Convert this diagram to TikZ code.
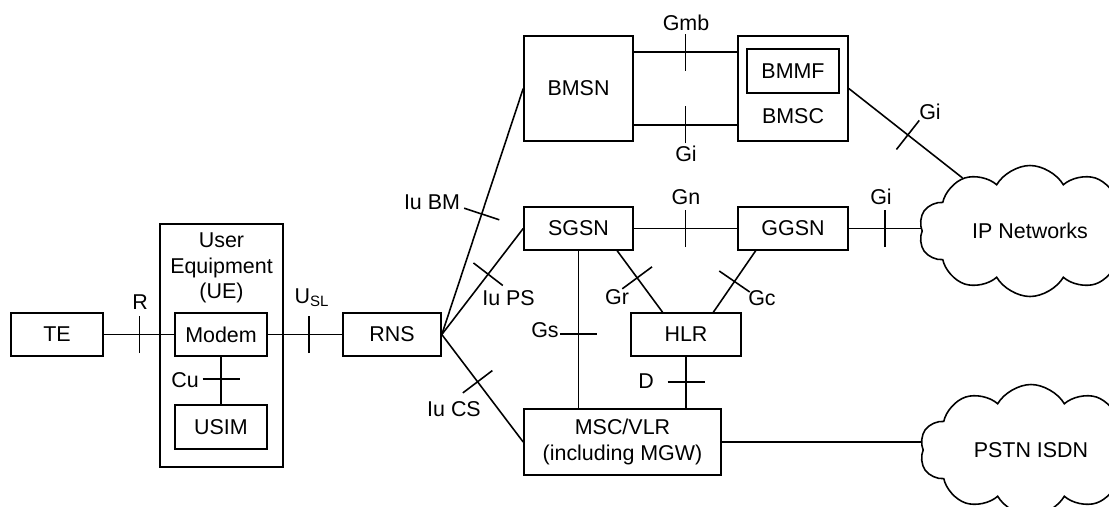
\documentclass[tikz,border=0pt]{standalone}
\usepackage{fontspec}
\setmainfont{Liberation Sans}
\usetikzlibrary{positioning, calc, shapes.symbols, decorations.markings}
\tikzset{
  box/.style={rectangle, draw, line width=0.9pt, minimum height=0.86cm,
    inner sep=0pt, align=center},
  net/.style={cloud, draw, line width=0.9pt, cloud puffs=10, cloud puff arc=120,
    aspect=1.9, minimum width=4.45cm, minimum height=2.62cm, inner sep=0pt},
  link/.style={line width=0.9pt},
  iface/.style={postaction={decorate, decoration={markings,
    mark=at position #1 with {\draw[link] (0,-0.37) -- (0,0.37);}}}},
  lbl/.style={inner sep=0pt}
}

\begin{document}
\begin{tikzpicture}[every node/.style={font=\fontsize{12.2}{14.6}\selectfont}]
  \clip (0,0) rectangle (22.18,-10.12);

  % User side
  \node[box, minimum width=1.84cm] (te) at (1.14,-6.69) {TE};
  \node[box, minimum width=2.46cm, minimum height=4.86cm] (ue) at (4.43,-6.91) {};
  \node[align=center] (uelbl) at (4.43,-5.36) {User\\Equipment\\(UE)};
  \node[box, minimum width=1.84cm] (modem) at (4.42,-6.69) {Modem};
  \node[box, minimum width=1.84cm, minimum height=0.88cm] (usim) at (4.42,-8.54) {USIM};
  \node[box, minimum width=1.96cm] (rns) at (7.84,-6.69) {RNS};

  % Core network
  \node[box, minimum width=2.18cm, minimum height=2.1cm] (bmsn) at (11.57,-1.77) {BMSN};
  \node[box, minimum width=2.2cm, minimum height=2.1cm] (bmsc) at (15.86,-1.77) {};
  \node[box, minimum width=1.84cm, minimum height=0.88cm] (bmmf) at (15.86,-1.42) {BMMF};
  \node (bmsclbl) at (15.86,-2.32) {BMSC};
  \node[box, minimum width=2.18cm] (sgsn) at (11.57,-4.57) {SGSN};
  \node[box, minimum width=2.2cm] (ggsn) at (15.86,-4.57) {GGSN};
  \node[box, minimum width=2.2cm] (hlr) at (13.72,-6.69) {HLR};
  \node[box, minimum width=3.94cm, minimum height=1.32cm] (msc) at (12.45,-8.84)
    {MSC/VLR\\(including MGW)};

  % External networks
  \node[net] (ipnet) at (20.6,-4.62) {IP Networks};
  \node[net] (pstn) at (20.62,-9.0) {PSTN ISDN};

  % Connectors with interface ticks
  \draw[link, iface=0.51] (te.east) -- (modem.west);
  \draw[link, iface=0.55] (modem.east) -- (rns.west);
  \draw[link, iface=0.47] (modem.south) -- (usim.north);
  \draw[link, iface=0.49] (rns.east) -- (bmsn.west);
  \draw[link, iface=0.57] (rns.east) -- (sgsn.west);
  \draw[link, iface=0.44] (rns.east) -- (msc.west);
  \draw[link, iface=0.5] ($(bmsn.north east)+(0,-0.34)$) -- ($(bmsc.north west)+(0,-0.34)$);
  \draw[link, iface=0.5] ($(bmsn.south east)+(0,0.34)$) -- ($(bmsc.south west)+(0,0.34)$);
  \draw[link, iface=0.52] (bmsc.east) -- (ipnet);
  \draw[link, iface=0.5] (sgsn.east) -- (ggsn.west);
  \draw[link, iface=0.5] (ggsn.east) -- (ggsn.east -| ipnet.west);
  \draw[link, iface=0.53] (sgsn.south) -- (sgsn.south |- msc.north);
  \draw[link, iface=0.44] ($(sgsn.south)!0.7!(sgsn.south east)$) -- ($(hlr.north)!0.42!(hlr.north west)$);
  \draw[link, iface=0.5] ($(ggsn.south)!0.67!(ggsn.south west)$) -- ($(hlr.north)!0.49!(hlr.north east)$);
  \draw[link, iface=0.49] (hlr.south) -- (hlr.south |- msc.north);
  \draw[link] (msc.east) -- (msc.east -| pstn.west);

  % Interface labels
  \node[lbl] (lr) at (2.8,-6.04) {R};
  \node[lbl] (lusl) at (6.24,-5.96) {U\textsubscript{SL}};
  \node[lbl] (lcu) at (3.7,-7.6) {Cu};
  \node[lbl] (liubm) at (8.64,-4.04) {Iu BM};
  \node[lbl] (liups) at (10.17,-5.96) {Iu PS};
  \node[lbl] (liucs) at (9.08,-8.18) {Iu CS};
  \node[lbl] (lgmb) at (13.72,-0.46) {Gmb};
  \node[lbl] (lgi1) at (13.72,-3.08) {Gi};
  \node[lbl] (lgi2) at (18.6,-2.24) {Gi};
  \node[lbl] (lgn) at (13.72,-3.94) {Gn};
  \node[lbl] (lgi3) at (17.62,-3.94) {Gi};
  \node[lbl] (lgs) at (10.9,-6.6) {Gs};
  \node[lbl] (lgr) at (12.34,-5.94) {Gr};
  \node[lbl] (lgc) at (15.24,-5.96) {Gc};
  \node[lbl] (ld) at (12.92,-7.62) {D};
\end{tikzpicture}
\end{document}
